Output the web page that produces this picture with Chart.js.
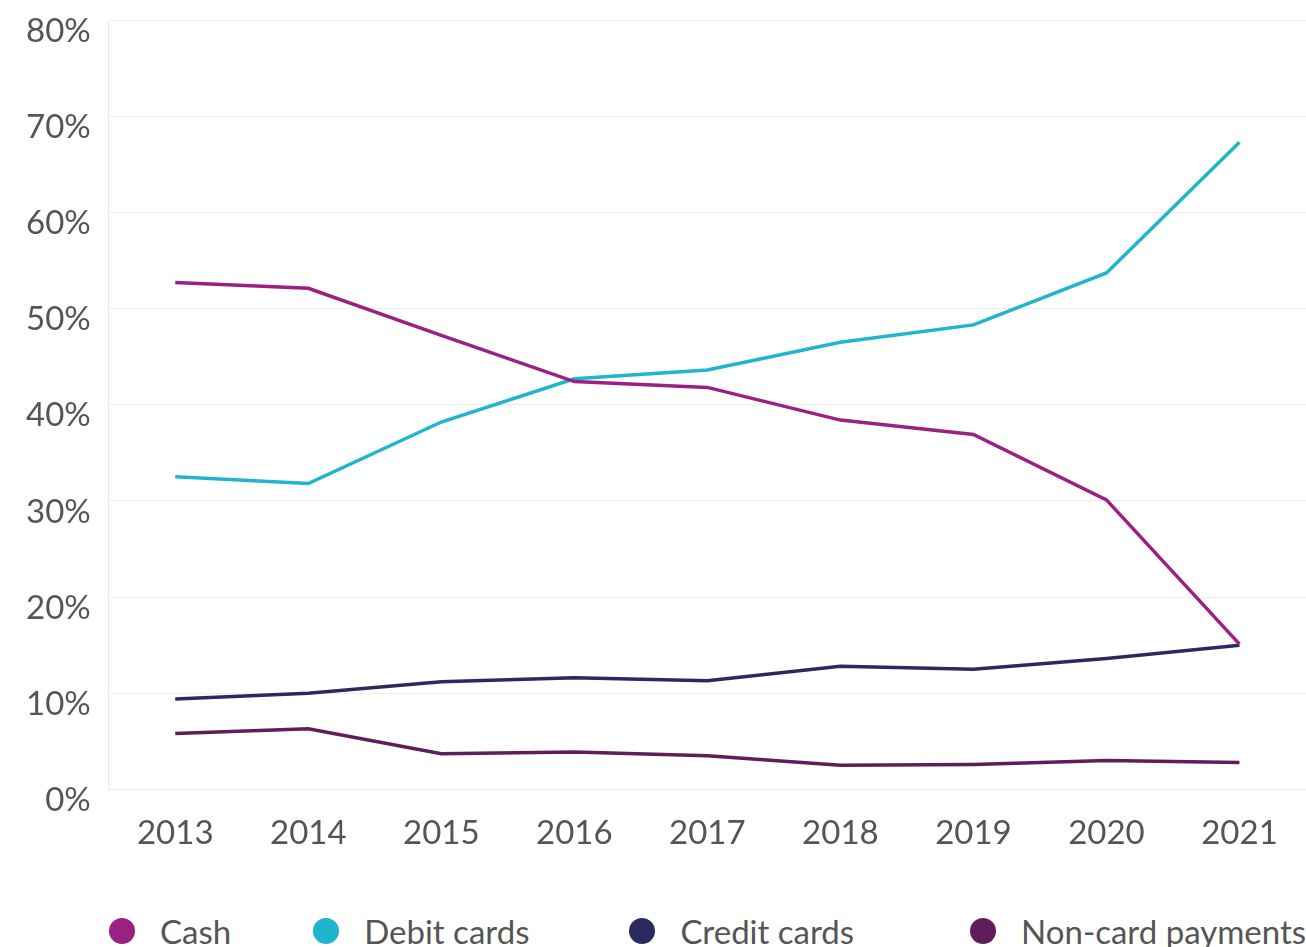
<!DOCTYPE html>
<html>
<head>
<meta charset="utf-8">
<script src="https://cdn.jsdelivr.net/npm/chart.js@4"></script>
<style>
  html, body { margin: 0; padding: 0; background: #fff; overflow: hidden; }
  #wrap { width: 1306px; height: 884px; position: relative; }
  #legend {
    display: flex;
    margin: 26px 0 0 109px;
    height: 42px;
    font-family: Lato, sans-serif;
    font-size: 33px;
    color: #555;
    line-height: 42px;
  }
  #legend .item { display: flex; align-items: center; white-space: nowrap; }
  #legend .item:nth-child(1) { margin-right: 82px; }
  #legend .item:nth-child(2) { margin-right: 100px; }
  #legend .item:nth-child(3) { margin-right: 116px; }
  #legend .dot { width: 26px; height: 26px; border-radius: 50%; margin-right: 25px; }
</style>
</head>
<body>
<div id="wrap"><canvas id="chart1"></canvas></div>
<div id="legend"></div>
<script>
// data (share of payments, %)
var years = ['2013', '2014', '2015', '2016', '2017', '2018', '2019', '2020', '2021'];
var cash = [52.7, 52.1, 47.2, 42.4, 41.8, 38.4, 36.9, 30.1, 15.1];
var debitCards = [32.5, 31.8, 38.2, 42.7, 43.6, 46.5, 48.3, 53.7, 67.3];
var creditCards = [9.4, 10.0, 11.2, 11.6, 11.3, 12.8, 12.5, 13.6, 15.0];
var nonCard = [5.8, 6.3, 3.7, 3.9, 3.5, 2.5, 2.6, 3.0, 2.8];
var yTicks = [0, 10, 20, 30, 40, 50, 60, 70, 80];

function line(label, data, colour) {
  return {
    label: label,
    data: data,
    borderColor: colour,
    backgroundColor: colour,
    borderWidth: 3.5,
    pointRadius: 0,
    tension: 0,
    fill: false
  };
}

var ctx1 = document.getElementById('chart1').getContext('2d');
var chart1 = new Chart(ctx1, {
  type: 'line',
  data: {
    labels: years,
    datasets: [
      line('Cash', cash, '#9a2083'),
      line('Debit cards', debitCards, '#1fb5cd'),
      line('Credit cards', creditCards, '#2a2a60'),
      line('Non-card payments', nonCard, '#611c5a')
    ]
  },
  options: {
    responsive: true,
    maintainAspectRatio: false,
    animation: false,
    layout: { padding: { top: 20, right: 0, left: 8, bottom: 7 } },
    plugins: {
      tooltip: { enabled: false },
      legend: { display: false }
    },
    scales: {
      x: {
        offset: true,
        grid: { display: false, drawTicks: false },
        border: { display: true, color: '#e8e8e8' },
        ticks: { color: '#555', padding: 24, font: { family: 'Lato', size: 33 } }
      },
      y: {
        min: 0,
        max: 80,
        afterBuildTicks: function (axis) {
          axis.ticks = yTicks.map(function (v) { return { value: v }; });
        },
        afterFit: function (axis) {
          axis.paddingTop = 0;
          axis.paddingBottom = 0;
        },
        grid: { color: '#eeeeee', drawTicks: false },
        border: { display: true, color: '#e8e8e8' },
        ticks: {
          color: '#555',
          padding: 18,
          labelOffset: 11,
          font: { family: 'Lato', size: 33 },
          callback: function (v) { return v + '%'; }
        }
      }
    }
  }
});

// legend under the chart, built from the datasets
var legendBox = document.getElementById('legend');
chart1.data.datasets.forEach(function (ds) {
  var item = document.createElement('div');
  item.className = 'item';
  item.innerHTML = '<span class="dot" style="background:' + ds.borderColor + '"></span>' + ds.label;
  legendBox.appendChild(item);
});
</script>
</body>
</html>
